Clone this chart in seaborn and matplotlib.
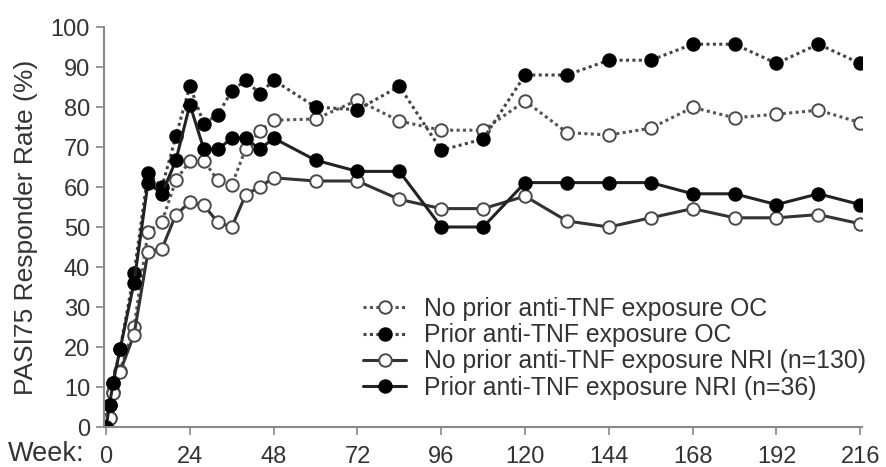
import matplotlib
matplotlib.use("Agg")
import matplotlib.pyplot as plt
import seaborn as sns
import pandas as pd

weeks = [0, 1, 2, 4, 8, 12, 16, 20, 24, 28, 32, 36, 40, 44, 48, 60, 72, 84, 96,
         108, 120, 132, 144, 156, 168, 180, 192, 204, 216]

no_prior_oc = [0, 2.3, 8.8, 14.0, 25.0, 48.8, 51.3, 61.7, 66.5, 66.5, 61.7, 60.5, 69.6,
               74.0, 76.7, 77.0, 81.7, 76.5, 74.2, 74.2, 81.5, 73.6, 73.0, 74.7, 79.9,
               77.3, 78.2, 79.2, 76.1]
prior_oc = [0, 5.6, 11.1, 19.4, 38.4, 63.4, 60.0, 72.7, 85.3, 75.8, 78.1, 84.0, 86.7,
            83.3, 86.7, 80.0, 79.3, 85.2, 69.2, 72.0, 88.0, 88.0, 91.7, 91.7, 95.7,
            95.7, 90.9, 95.7, 90.9]
no_prior_nri = [0, 2.3, 8.5, 13.8, 23.1, 43.8, 44.6, 53.1, 56.2, 55.4, 51.2, 50.0, 58.1,
                60.0, 62.3, 61.5, 61.5, 56.9, 54.6, 54.6, 57.7, 51.5, 50.0, 52.3, 54.6,
                52.3, 52.3, 53.1, 50.8]
prior_nri = [0, 5.6, 11.1, 19.4, 36.1, 61.1, 58.3, 66.7, 80.6, 69.4, 69.4, 72.2, 72.2,
             69.4, 72.2, 66.7, 63.9, 63.9, 50.0, 50.0, 61.1, 61.1, 61.1, 61.1, 58.3,
             58.3, 55.6, 58.3, 55.6]

labels = ["No prior anti-TNF exposure OC",
          "Prior anti-TNF exposure OC",
          "No prior anti-TNF exposure NRI (n=130)",
          "Prior anti-TNF exposure NRI (n=36)"]
xticks = [0, 24, 48, 72, 96, 120, 144, 168, 192, 216]
yticks = list(range(0, 101, 10))

sns.set_theme(style="white")
plt.rcParams['font.family'] = ['Liberation Sans', 'DejaVu Sans']

fig = plt.figure(figsize=(8.86, 4.67), dpi=100)
ax = fig.add_axes([104 / 886, 40 / 467, 758 / 886, 400 / 467])

series = [no_prior_oc, prior_oc, no_prior_nri, prior_nri]
styles = [
    dict(linestyle=(0, (1, 1.1)), mfc="white", mec="#4a4a4a", color="#555555"),
    dict(linestyle=(0, (1, 1.1)), mfc="black", mec="black", color="#444444"),
    dict(linestyle="-", mfc="white", mec="#4a4a4a", color="#333333"),
    dict(linestyle="-", mfc="black", mec="black", color="#222222"),
]
for vals, lab, st in zip(series, labels, styles):
    df = pd.DataFrame({"week": weeks, "rate": vals})
    sns.lineplot(data=df, x="week", y="rate", ax=ax, label=lab,
                 marker="o", markersize=9, markeredgewidth=1.4,
                 linewidth=2.2, color=st["color"], linestyle=st["linestyle"],
                 markerfacecolor=st["mfc"], markeredgecolor=st["mec"])

ax.set_xlim(-0.6, 216.5)
ax.set_ylim(0, 100)
ax.set_xticks(xticks)
ax.set_yticks(yticks)
ax.set_xlabel("")
ax.set_ylabel("PASI75 Responder Rate (%)", fontsize=19, color="#333333", labelpad=9)
ax.tick_params(axis="both", direction="out", length=6, width=1.2, color="#888888",
               labelsize=17, labelcolor="#333333", bottom=True, left=True)
ax.tick_params(axis="x", pad=8)
ax.tick_params(axis="y", pad=4)
for side in ["top", "right"]:
    ax.spines[side].set_visible(False)
for side in ["left", "bottom"]:
    ax.spines[side].set_color("#888888")
    ax.spines[side].set_linewidth(1.5)

fig.text(84 / 886, 1 - 454 / 467, "Week:", ha="right", va="center", fontsize=19.5,
         color="#333333")

leg = ax.legend(loc="upper left", bbox_to_anchor=((363 - 104) / 758, (427 - 297) / 400),
                frameon=False, fontsize=17.8, handlelength=1.75, handletextpad=0.7,
                labelspacing=0.09, borderaxespad=0, borderpad=0)
for t in leg.get_texts():
    t.set_color("#333333")

fig.savefig("out.png", dpi=100)
